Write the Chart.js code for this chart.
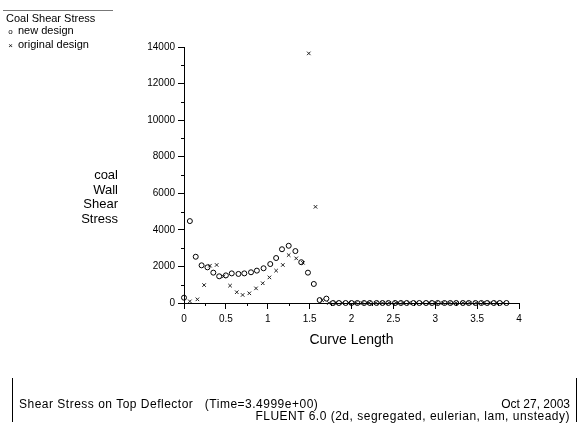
<!DOCTYPE html>
<html>
<head>
<meta charset="utf-8">
<script src="https://cdn.jsdelivr.net/npm/chart.js@4"></script>
<style>
    body { margin: 0; background: #fff; font-family: "Liberation Sans", Arial, sans-serif; }
    #wrap { position: relative; width: 587px; height: 425px; }
    #chart { position: absolute; left: 0; top: 0; }
    .txt { position: absolute; color: #000; white-space: pre; }
    #legend { position: absolute; left: 3px; top: 10px; width: 110px; border-top: 1px solid #777; font-size: 11px; }
    #legend div { line-height: 12px; }
    #ytitle { position: absolute; right: 469px; top: 168px; font-size: 13px; text-align: right; line-height: 14.5px; }
    #footer { position: absolute; left: 12px; top: 378px; width: 563px; height: 44px; border-left: 1px solid #000; border-right: 1px solid #000; font-size: 12px; }
</style>
</head>
<body>
<div id="wrap">
    <canvas id="chart" width="587" height="425"></canvas>
    <div id="legend"></div>
    <div id="ytitle">coal<br>Wall<br>Shear<br>Stress</div>
    <div id="footer">
        <span class="txt" style="left:6px; top:19px; letter-spacing:0.5px;">Shear Stress on Top Deflector   (Time=3.4999e+00)</span>
        <span class="txt" style="right:6px; top:19px;">Oct 27, 2003</span>
        <span class="txt" style="right:6px; top:31px; letter-spacing:0.5px;">FLUENT 6.0 (2d, segregated, eulerian, lam, unsteady)</span>
    </div>
</div>
<script>
const legendTitle = 'Coal Shear Stress';
const seriesNames = ['new design', 'original design'];

const newX = [0, 0.07, 0.14, 0.21, 0.28, 0.35, 0.42, 0.50, 0.57, 0.65, 0.72, 0.80, 0.87, 0.95, 1.03, 1.10, 1.17, 1.25, 1.33, 1.40, 1.48, 1.55, 1.62, 1.70,
    1.78, 1.85, 1.93, 2.00, 2.07, 2.15, 2.22, 2.30, 2.37, 2.44, 2.52, 2.59, 2.66, 2.74, 2.81, 2.89, 2.96, 3.03, 3.11, 3.18, 3.25, 3.33, 3.40, 3.48, 3.55, 3.62, 3.70, 3.77, 3.85];
const newY = [290, 4480, 2530, 2060, 1950, 1660, 1460, 1510, 1620, 1590, 1620, 1680, 1770, 1900, 2130, 2460, 2940, 3130, 2840, 2230, 1660, 1040, 160, 240,
    0, 0, 0, 0, 0, 0, 0, 0, 0, 0, 0, 0, 0, 0, 0, 0, 0, 0, 0, 0, 0, 0, 0, 0, 0, 0, 0, 0, 0];

const origX = [0.07, 0.16, 0.24, 0.31, 0.39, 0.47, 0.55, 0.63, 0.70, 0.78, 0.86, 0.94, 1.02, 1.10, 1.18, 1.25, 1.34, 1.42, 1.49, 1.57, 1.65,
    1.73, 1.81, 1.89, 1.97, 2.05, 2.13, 2.21, 2.29, 2.37, 2.45, 2.53, 2.61, 2.69, 2.77, 2.85, 2.93, 3.01, 3.09, 3.17, 3.25, 3.33, 3.41, 3.49, 3.57, 3.65, 3.73, 3.81];
const origY = [90, 200, 980, 2040, 2080, 1450, 950, 590, 440, 530, 800, 1080, 1400, 1770, 2080, 2620, 2440, 2200, 13650, 5260, 150,
    0, 0, 0, 0, 0, 0, 0, 0, 0, 0, 0, 0, 0, 0, 0, 0, 0, 0, 0, 0, 0, 0, 0, 0, 0, 0, 0];

const xMinorTicks = [0.25, 0.75, 1.25, 1.75, 2.25, 2.75, 3.25, 3.75];
const yMinorTicks = [1000, 3000, 5000, 7000, 9000, 11000, 13000];

function toPoints(xs, ys) {
    return xs.map((x, i) => ({ x: x, y: ys[i] }));
}

// legend in html
const legend = document.getElementById('legend');
legend.innerHTML = '<div style="padding-left:3px;margin-top:1px">' + legendTitle + '</div>' +
    '<div><span style="display:inline-block;width:15px;text-align:center;font-size:8px">o</span>' + seriesNames[0] + '</div>' +
    '<div><span style="display:inline-block;width:15px;text-align:center;font-size:8px">&times;</span>' + seriesNames[1] + '</div>';

// short minor ticks on both axes
const minorTicks = {
    id: 'minorTicks',
    afterDraw(chart) {
        const ctx = chart.ctx;
        const xs = chart.scales.x, ys = chart.scales.y;
        ctx.save();
        ctx.strokeStyle = '#000';
        ctx.lineWidth = 1;
        ctx.beginPath();
        xMinorTicks.forEach(v => {
            const px = Math.round(xs.getPixelForValue(v)) + 0.5;
            ctx.moveTo(px, xs.top);
            ctx.lineTo(px, xs.top + 3);
        });
        yMinorTicks.forEach(v => {
            const py = Math.round(ys.getPixelForValue(v)) + 0.5;
            ctx.moveTo(ys.right, py);
            ctx.lineTo(ys.right - 3, py);
        });
        ctx.stroke();
        ctx.restore();
    }
};

const font = { family: '"Liberation Sans", Arial, sans-serif', size: 10 };

new Chart(document.getElementById('chart'), {
    type: 'scatter',
    data: {
        datasets: [{
            label: seriesNames[0],
            data: toPoints(newX, newY),
            pointStyle: 'circle',
            pointRadius: 2.5,
            borderColor: '#000',
            backgroundColor: 'rgba(0,0,0,0)',
            borderWidth: 1,
            clip: false
        }, {
            label: seriesNames[1],
            data: toPoints(origX, origY),
            pointStyle: 'crossRot',
            pointRadius: 2.5,
            borderColor: '#222',
            backgroundColor: 'rgba(0,0,0,0)',
            borderWidth: 1,
            clip: false
        }]
    },
    options: {
        responsive: false,
        animation: false,
        layout: { padding: { left: 0, top: 47, right: 68, bottom: 72 } },
        plugins: { legend: { display: false }, tooltip: { enabled: false } },
        scales: {
            x: {
                type: 'linear',
                min: 0,
                max: 4,
                afterFit: s => { s.height = 50; },
                border: { display: true, color: '#000', width: 1 },
                grid: { drawOnChartArea: false, drawTicks: true, tickLength: 6, color: '#000' },
                ticks: { stepSize: 0.5, color: '#000', font: font, padding: 4, maxRotation: 0, callback: v => String(v) },
                title: { display: true, text: 'Curve Length', color: '#000', font: { family: font.family, size: 14 }, padding: { top: 4 } }
            },
            y: {
                type: 'linear',
                min: 0,
                max: 14000,
                afterFit: s => { s.width = 184; },
                border: { display: true, color: '#000', width: 1 },
                grid: { drawOnChartArea: false, drawTicks: true, tickLength: 6, color: '#000' },
                ticks: { stepSize: 2000, color: '#000', font: font, padding: 3, callback: v => String(v) }
            }
        }
    },
    plugins: [minorTicks]
});
</script>
</body>
</html>
